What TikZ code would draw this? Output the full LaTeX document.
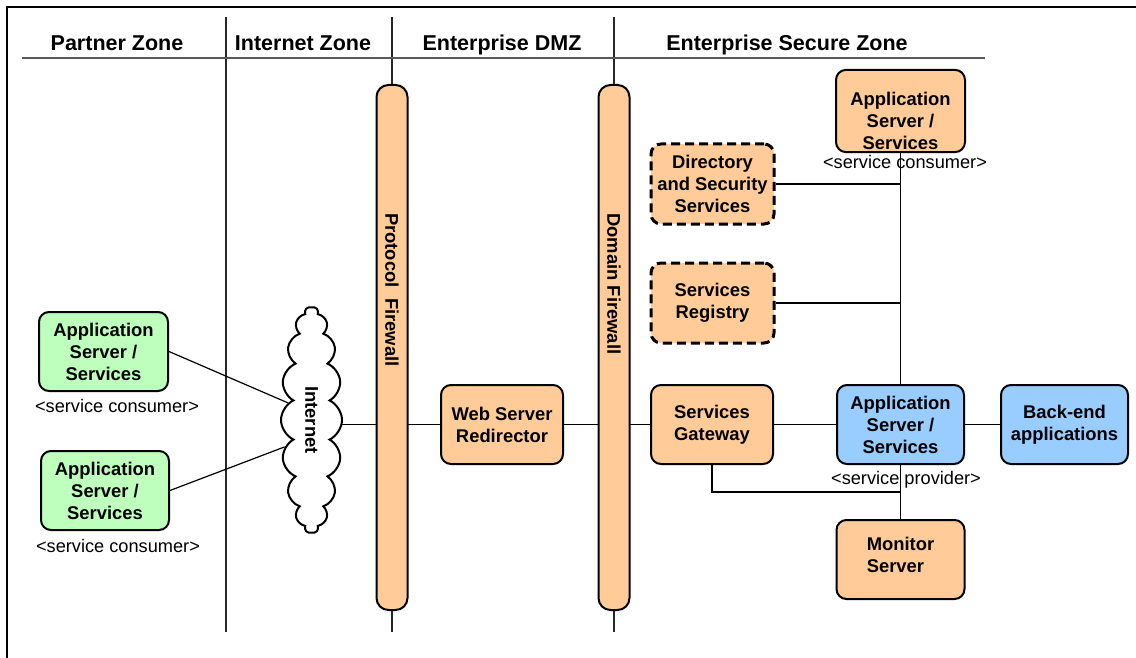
\documentclass[tikz,border=0pt]{standalone}
\usepackage{fontspec}
\setmainfont{Liberation Sans}
\definecolor{soaorange}{RGB}{255,204,153}
\definecolor{soagreen}{RGB}{190,255,190}
\definecolor{soablue}{RGB}{153,204,255}
\definecolor{zonegray}{RGB}{90,90,90}
\usetikzlibrary{shapes.symbols,calc}
\pgfdeclarelayer{background}
\pgfsetlayers{background,main}

\begin{document}
\begin{tikzpicture}[x=1pt,y=-1pt,
  zonehead/.style={font=\fontsize{21.5}{24}\selectfont\bfseries,inner sep=0pt,anchor=base},
  soabox/.style={draw,line width=2pt,rounded corners=10pt,fill=soaorange,minimum width=123pt,
    minimum height=79pt,align=center,inner sep=2pt,font=\fontsize{18.4}{22}\selectfont\bfseries},
  infrabox/.style={soabox,dash pattern=on 9pt off 5pt,line width=3pt},
  firewallbar/.style={draw,line width=2pt,rounded corners=12pt,fill=soaorange,
    minimum width=31pt,minimum height=525pt,inner sep=0pt},
  fwtext/.style={font=\fontsize{18.4}{22}\selectfont\bfseries,rotate=-90,anchor=west,inner sep=0pt},
  rolelabel/.style={font=\fontsize{18.2}{22}\selectfont,inner sep=0pt,anchor=base},
  wire/.style={line width=1.2pt}
]
  \useasboundingbox (0,0) rectangle (1136,658);
  % frame and zone headings
  \draw[line width=1.5pt] (7,658) -- (7,7) -- (1136,7);
  \node[zonehead] (hdpartner) at (117,51) {Partner Zone};
  \node[zonehead] (hdinternet) at (303,51) {Internet Zone};
  \node[zonehead] (hddmz) at (502,51) {Enterprise DMZ};
  \node[zonehead] (hdsecure) at (787,51) {Enterprise Secure Zone};
  \draw[zonegray,line width=2pt] (22,58) -- (985,58);

  % partner zone
  \node[soabox,fill=soagreen,minimum width=129pt] (ptnrapp1) at (103.5,351.5) {Application\\Server /\\Services};
  \node[rolelabel] (ptnrrole1) at (117,412.5) {<service consumer>};
  \node[soabox,fill=soagreen,minimum width=128pt] (ptnrapp2) at (105,490.5) {Application\\Server /\\Services};
  \node[rolelabel] (ptnrrole2) at (118,552.5) {<service consumer>};

  % internet zone
  \node[cloud,cloud puffs=18,cloud puff arc=130,cloud ignores aspect,draw,line width=2pt,fill=white,
    minimum width=226pt,minimum height=61pt,rotate=-90,inner sep=0pt,
    font=\fontsize{18.4}{22}\selectfont\bfseries] (inet) at (311.5,420) {Internet};

  % firewalls and DMZ
  \node[firewallbar] (fwproto) at (392,347.5) {};
  \node[fwtext] (fwprotolbl) at (392,213) {Protocol\ \ Firewall};
  \node[firewallbar] (fwdomain) at (614,347.5) {};
  \node[fwtext] (fwdomainlbl) at (614,213) {Domain Firewall};
  \node[soabox,minimum width=122pt] (webredir) at (502,424.5) {Web Server\\Redirector};

  % secure zone
  \node[soabox,minimum width=129pt,minimum height=80pt] (consumer) at (900.5,111) {\rule{0pt}{34pt}Application\\Server /\\Services};
  \node[rolelabel] (consrole) at (905,169) {<service consumer>};
  \node[infrabox,minimum height=80pt] (directory) at (712.5,184) {Directory\\and Security\\Services};
  \node[infrabox,minimum height=80pt] (registry) at (712.5,303) {Services\\Registry};
  \node[soabox,minimum width=122pt] (gateway) at (712,424.5) {Services\\Gateway};
  \node[soabox,fill=soablue,minimum width=127pt] (provider) at (900.5,424.5) {Application\\Server /\\Services};
  \node[rolelabel] (provrole) at (906,484) {<service provider>};
  \node[soabox,fill=soablue,minimum width=127pt] (backend) at (1064.5,424.5) {Back-end\\applications};
  \node[soabox,minimum width=128pt,align=left] (monitor) at (900.5,559.5) {Monitor\\Server\rule[-10pt]{0pt}{10pt}};

  \begin{pgfonlayer}{background}
    \draw[line width=1.5pt,black!85] (226,17) -- (226,632);
    \draw[line width=1.5pt,black!85] (392,17) -- (392,632);
    \draw[line width=1.5pt,black!85] (614,17) -- (614,632);
    \draw[wire] (ptnrapp1.east) -- (inet.234);
    \draw[wire] (ptnrapp2.east) -- (inet.315);
    \draw[wire] (webredir.west -| inet.center) -- (webredir.west);
    \draw[wire] (webredir.east) -- (gateway.west);
    \draw[wire] (gateway.east) -- (provider.west);
    \draw[wire] (provider.east) -- (backend.west);
    \draw[wire] (consumer.south) -- (provider.north);
    \draw[wire] (directory.east) -- (directory.east -| consumer.south);
    \draw[wire] (registry.east) -- (registry.east -| consumer.south);
    \draw[wire] (provider.south) -- (monitor.north);
    \draw[wire] (gateway.south) |- ($(provider.south)!0.5!(monitor.north)$);
  \end{pgfonlayer}
\end{tikzpicture}
\end{document}
